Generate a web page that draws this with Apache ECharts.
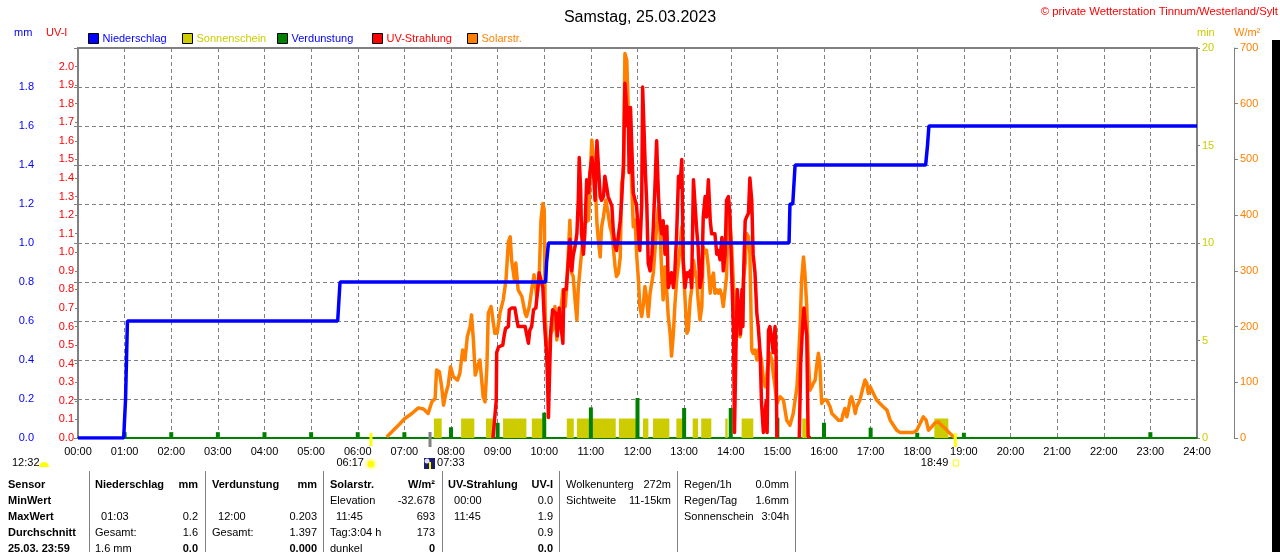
<!DOCTYPE html>
<html>
<head>
<meta charset="utf-8">
<script src="https://cdn.jsdelivr.net/npm/echarts@6/dist/echarts.min.js"></script>
<style>
html, body { margin: 0; padding: 0; background: #fff; }
#chart { width: 1280px; height: 552px; }
</style>
</head>
<body>
<div id="chart"></div>
<script>
const FONT = 'Liberation Sans';

// Niederschlag kumuliert [Stunde, mm]
const rainMm = [[0, 0], [0.98, 0], [1.02, 0.2], [1.04, 0.4], [1.06, 0.6], [5.57, 0.6], [5.62, 0.8],
  [10.03, 0.8], [10.05, 0.9], [10.09, 1.0], [15.25, 1.0], [15.27, 1.2], [15.33, 1.2], [15.38, 1.4],
  [18.18, 1.4], [18.22, 1.5], [18.25, 1.6], [24, 1.6]];

// Verdunstung je Stunde (mm)
const evapHour = [1, 2, 3, 4, 5, 6, 7, 8, 9, 10, 11, 12, 13, 14, 15, 16, 17, 18, 19, 23];
const evapMm = [0.03, 0.03, 0.03, 0.03, 0.03, 0.03, 0.03, 0.055, 0.078, 0.13, 0.157, 0.205, 0.154, 0.154,
  0.104, 0.078, 0.053, 0.027, 0.027, 0.03];

// Sonnenschein (min) Intervalle
const sunFrom = ['07:38', '08:13', '08:45', '09:07', '09:44', '10:29', '10:42', '11:36', '12:07', '12:20',
  '12:50', '13:11', '13:22', '13:53', '14:14', '15:32', '18:22'];
const sunTo = ['07:48', '08:30', '08:55', '09:37', '09:58', '10:38', '11:32', '11:58', '12:14', '12:41',
  '12:59', '13:18', '13:35', '13:56', '14:29', '15:38', '18:40'];
const sunMin = [1, 1, 1, 1, 1, 1, 1, 1, 1, 1, 1, 1, 1, 1, 1, 1, 1];

// Solarstrahlung [Stunde, W/m²]
const solarWm2 = [[6.62, 2], [6.91, 26], [7.01, 35], [7.16, 44], [7.30, 54], [7.41, 52], [7.51, 44], [7.59, 65],
  [7.66, 71], [7.69, 122], [7.75, 119], [7.80, 92], [7.84, 59], [7.89, 80], [7.94, 95], [7.99, 128], [8.05, 110],
  [8.14, 104], [8.19, 116], [8.25, 158], [8.30, 140], [8.35, 182], [8.41, 200], [8.44, 221], [8.48, 176],
  [8.52, 113], [8.57, 128], [8.62, 140], [8.69, 74], [8.73, 65], [8.77, 128], [8.80, 224], [8.86, 236],
  [8.89, 239], [8.94, 188], [8.99, 188], [9.05, 224], [9.12, 248], [9.18, 284], [9.23, 352], [9.27, 361],
  [9.30, 319], [9.36, 284], [9.39, 314], [9.44, 266], [9.52, 254], [9.59, 224], [9.62, 218], [9.68, 236],
  [9.73, 266], [9.78, 293], [9.84, 254], [9.89, 284], [9.93, 391], [9.97, 421], [10.00, 409], [10.02, 224],
  [10.05, 158], [10.09, 152], [10.14, 188], [10.18, 194], [10.23, 236], [10.27, 176], [10.30, 212],
  [10.35, 224], [10.40, 266], [10.45, 236], [10.48, 269], [10.55, 391], [10.59, 296], [10.62, 290],
  [10.66, 248], [10.70, 212], [10.73, 269], [10.80, 332], [10.87, 386], [10.95, 391], [10.98, 458],
  [11.02, 535], [11.05, 538], [11.09, 463], [11.13, 386], [11.16, 355], [11.20, 325], [11.23, 379],
  [11.27, 397], [11.32, 427], [11.37, 403], [11.41, 379], [11.45, 367], [11.48, 343], [11.52, 307],
  [11.55, 290], [11.59, 296], [11.63, 325], [11.66, 457], [11.70, 475], [11.73, 690], [11.77, 678],
  [11.80, 595], [11.84, 535], [11.88, 445], [11.91, 379], [11.95, 391], [11.98, 331], [12.02, 284],
  [12.05, 236], [12.09, 218], [12.12, 236], [12.16, 272], [12.20, 248], [12.23, 218], [12.27, 260],
  [12.34, 296], [12.38, 343], [12.41, 379], [12.45, 415], [12.48, 379], [12.52, 296], [12.55, 248],
  [12.59, 307], [12.63, 260], [12.66, 218], [12.70, 188], [12.73, 147], [12.77, 188], [12.80, 236],
  [12.84, 284], [12.90, 331], [12.95, 379], [12.99, 296], [13.06, 188], [13.09, 194], [13.13, 248],
  [13.16, 266], [13.20, 319], [13.23, 302], [13.27, 284], [13.30, 248], [13.34, 212], [13.38, 236],
  [13.41, 343], [13.45, 332], [13.48, 337], [13.52, 307], [13.56, 260], [13.59, 284], [13.63, 296],
  [13.66, 260], [13.70, 266], [13.73, 260], [13.77, 266], [13.81, 254], [13.84, 236], [13.88, 236],
  [13.91, 290], [13.95, 427], [13.98, 427], [14.02, 343], [14.06, 272], [14.09, 236], [14.13, 212],
  [14.16, 188], [14.20, 182], [14.24, 236], [14.27, 284], [14.31, 314], [14.34, 367], [14.38, 361],
  [14.41, 332], [14.45, 158], [14.48, 152], [14.52, 158], [14.56, 140], [14.59, 158], [14.63, 152],
  [14.66, 140], [14.70, 104], [14.74, 92], [14.77, 110], [14.81, 140], [14.84, 152], [14.88, 140],
  [14.91, 116], [14.95, 92], [14.99, 62], [15.02, 68], [15.06, 74], [15.13, 68], [15.20, 32], [15.27, 23],
  [15.34, 44], [15.42, 92], [15.45, 134], [15.49, 206], [15.52, 284], [15.56, 325], [15.59, 296],
  [15.63, 236], [15.66, 146], [15.70, 86], [15.74, 92], [15.77, 98], [15.81, 104], [15.84, 128],
  [15.88, 152], [15.91, 134], [15.95, 62], [15.99, 68], [16.06, 68], [16.13, 56], [16.17, 44], [16.24, 38],
  [16.31, 32], [16.38, 32], [16.41, 44], [16.45, 53], [16.49, 38], [16.52, 50], [16.56, 68], [16.59, 74],
  [16.63, 62], [16.67, 44], [16.70, 56], [16.77, 68], [16.84, 92], [16.88, 104], [16.92, 98], [16.95, 80],
  [16.99, 92], [17.02, 92], [17.06, 80], [17.13, 68], [17.20, 62], [17.27, 56], [17.35, 50], [17.42, 32],
  [17.49, 23], [17.56, 14], [17.63, 10], [17.77, 10], [17.92, 10], [17.99, 14], [18.06, 26], [18.13, 38],
  [18.19, 32], [18.24, 14], [18.31, 20], [18.38, 27], [18.45, 29], [18.52, 23], [18.60, 17], [18.67, 11],
  [18.74, 5], [18.79, 2], [18.82, 0]];

// UV-Strahlung [Stunde, UV-I]
const uvIndex = [[8.90, 0], [8.94, 0.01], [8.97, 0.20], [8.98, 0.46], [9.02, 0.49], [9.05, 0.50], [9.11, 0.50],
  [9.14, 0.55], [9.17, 0.59], [9.23, 0.60], [9.25, 0.69], [9.30, 0.70], [9.37, 0.70], [9.41, 0.64],
  [9.44, 0.60], [9.59, 0.60], [9.62, 0.59], [9.66, 0.51], [9.69, 0.58], [9.73, 0.60], [9.77, 0.69],
  [9.82, 0.70], [9.86, 0.80], [9.89, 0.89], [9.93, 0.90], [9.97, 0.81], [10.00, 0.64], [10.02, 0.56],
  [10.05, 0.46], [10.07, 0.31], [10.09, 0.11], [10.11, 0.31], [10.14, 0.58], [10.18, 0.69], [10.21, 0.70],
  [10.25, 0.67], [10.28, 0.55], [10.32, 0.70], [10.36, 0.60], [10.40, 0.51], [10.42, 0.80], [10.47, 0.80],
  [10.52, 0.96], [10.55, 1.07], [10.59, 0.90], [10.62, 0.98], [10.66, 1.03], [10.70, 1.10], [10.73, 1.28],
  [10.75, 1.51], [10.78, 1.34], [10.80, 1.10], [10.84, 0.99], [10.87, 1.10], [10.91, 1.39], [10.95, 1.32],
  [10.98, 1.43], [11.02, 1.51], [11.05, 1.46], [11.09, 1.28], [11.13, 1.60], [11.16, 1.59], [11.20, 1.30],
  [11.23, 1.28], [11.27, 1.30], [11.30, 1.41], [11.34, 1.35], [11.37, 1.30], [11.41, 1.30], [11.45, 1.25],
  [11.48, 1.12], [11.52, 1.03], [11.55, 1.01], [11.59, 1.01], [11.63, 1.17], [11.66, 1.28], [11.70, 1.48],
  [11.73, 1.91], [11.75, 1.84], [11.78, 1.68], [11.80, 1.78], [11.82, 1.43], [11.85, 1.78], [11.88, 1.55],
  [11.91, 1.32], [11.95, 1.32], [11.98, 1.25], [12.02, 1.10], [12.05, 1.01], [12.09, 1.25], [12.11, 1.89],
  [12.14, 1.90], [12.17, 1.43], [12.20, 1.25], [12.23, 0.94], [12.27, 0.90], [12.31, 0.99], [12.34, 1.14],
  [12.38, 1.39], [12.41, 1.60], [12.45, 1.30], [12.48, 1.17], [12.52, 1.10], [12.55, 1.17], [12.59, 0.99],
  [12.63, 1.14], [12.66, 0.81], [12.70, 0.81], [12.73, 0.89], [12.77, 0.81], [12.80, 0.89], [12.84, 1.10],
  [12.88, 1.41], [12.91, 1.35], [12.95, 1.50], [12.98, 0.96], [13.02, 0.81], [13.06, 0.89], [13.09, 0.87],
  [13.13, 0.90], [13.16, 0.81], [13.20, 1.39], [13.23, 1.40], [13.27, 1.12], [13.30, 1.03], [13.34, 0.81],
  [13.38, 0.87], [13.41, 1.19], [13.45, 1.30], [13.48, 1.19], [13.52, 1.39], [13.56, 1.17], [13.59, 1.10],
  [13.63, 1.09], [13.66, 1.10], [13.70, 0.99], [13.73, 1.01], [13.77, 0.96], [13.81, 1.08], [13.84, 0.90],
  [13.88, 0.99], [13.91, 1.28], [13.95, 1.30], [13.98, 1.21], [14.02, 0.90], [14.06, 0.56], [14.08, 0.03],
  [14.11, 0.46], [14.14, 0.80], [14.18, 0.80], [14.21, 0.56], [14.24, 0.80], [14.26, 0.60], [14.28, 0.92],
  [14.31, 1.17], [14.34, 1.19], [14.38, 1.21], [14.41, 1.40], [14.45, 1.28], [14.48, 0.99], [14.52, 0.89],
  [14.56, 0.67], [14.59, 0.60], [14.63, 0.46], [14.66, 0.19], [14.70, 0.03], [14.74, 0.03], [14.76, 0.20],
  [14.78, 0.03], [14.81, 0.58], [14.84, 0.60], [14.88, 0.53], [14.91, 0.46], [14.95, 0.60], [14.97, 0.49],
  [14.99, 0], [15.2, '-'], [15.47, 0], [15.50, 0.40], [15.54, 0.60], [15.57, 0.70], [15.59, 0.64],
  [15.63, 0.55], [15.66, 0.01], [15.70, 0]];

// Sonnen-/Mondzeiten unter der Zeitachse
const sunrise = '06:17';
const sunset = '18:49';
const moonEvent = '07:33';
const moonNote = '12:32';

// Tabelle unter dem Diagramm
const tableRows = ['Sensor', 'MinWert', 'MaxWert', 'Durchschnitt', '25.03. 23:59'];
const tableCols = [
  { head: ['Niederschlag', 'mm'], cells: [['', ''], ['  01:03', '0.2'], ['Gesamt:', '1.6'], ['1.6 mm', '0.0']] },
  { head: ['Verdunstung', 'mm'], cells: [['', ''], ['  12:00', '0.203'], ['Gesamt:', '1.397'], ['', '0.000']] },
  { head: ['Solarstr.', 'W/m²'], cells: [['Elevation', '-32.678'], ['  11:45', '693'], ['Tag:3:04 h', '173'], ['dunkel', '0']] },
  { head: ['UV-Strahlung', 'UV-I'], cells: [['  00:00', '0.0'], ['  11:45', '1.9'], ['', '0.9'], ['', '0.0']] }
];
const infoCols = [
  [['Wolkenunterg', '272m'], ['Sichtweite', '11-15km']],
  [['Regen/1h', '0.0mm'], ['Regen/Tag', '1.6mm'], ['Sonnenschein', '3:04h']]
];

const hourOf = s => { const p = s.split(':').map(Number); return p[0] + p[1] / 60; };
const sunData = sunFrom.map((f, i) => [hourOf(f), hourOf(sunTo[i]), sunMin[i]]);
const evapData = evapHour.map((h, i) => [h, evapMm[i]]);

const GRAY = '#808080';
const dashed = { show: true, lineStyle: { color: GRAY, type: [4, 3], width: 1 } };
const lbl = (color, extra) => Object.assign({ color, fontSize: 11, fontFamily: FONT }, extra || {});

const chart = echarts.init(document.getElementById('chart'));

const legendItem = (left, name, color) => ({
  left, top: 33, padding: 0, itemWidth: 10, itemHeight: 10, icon: 'rect', selectedMode: false,
  itemStyle: { borderColor: '#000', borderWidth: 1 },
  textStyle: { color, fontSize: 11, fontFamily: FONT, padding: [0, 0, 0, -1] },
  data: [{ name }]
});

chart.setOption({
  animation: false,
  textStyle: { fontFamily: FONT },
  title: {
    text: 'Samstag, 25.03.2023', left: 'center', top: 5,
    textStyle: { fontSize: 16, fontWeight: 'normal', color: '#000', fontFamily: FONT }
  },
  legend: [
    legendItem(88, 'Niederschlag', '#0000ff'),
    legendItem(182, 'Sonnenschein', '#cccc00'),
    legendItem(277, 'Verdunstung', '#0000ff'),
    legendItem(372, 'UV-Strahlung', '#ff0000'),
    legendItem(467, 'Solarstr.', '#ff8000')
  ],
  grid: { left: 78, right: 83, top: 48, bottom: 114, show: true, borderColor: GRAY, borderWidth: 2 },
  xAxis: {
    type: 'value', min: 0, max: 24, interval: 1,
    axisLine: { show: true, onZero: false, lineStyle: { color: '#008000', width: 2 } },
    axisTick: { show: false },
    splitLine: dashed,
    axisLabel: lbl('#000', { margin: 8, formatter: v => String(v).padStart(2, '0') + ':00' })
  },
  yAxis: [
    { type: 'value', position: 'left', offset: 37, min: 0, max: 2, interval: 0.2,
      axisLine: { show: true, lineStyle: { color: GRAY, width: 1 } },
      axisTick: { show: true, length: 4, lineStyle: { color: GRAY } },
      splitLine: dashed,
      axisLabel: lbl('#0000ff', { margin: 7, formatter: v => v > 1.95 ? '' : v.toFixed(1) }) },
    { type: 'value', position: 'left', min: 0, max: 2.1, interval: 0.1,
      axisLine: { show: true, lineStyle: { color: GRAY, width: 2 } },
      axisTick: { show: true, length: 3, lineStyle: { color: GRAY } },
      splitLine: { show: false },
      axisLabel: lbl('#ff0000', { margin: 4, formatter: v => v > 2.05 ? '' : v.toFixed(1) }) },
    { type: 'value', position: 'right', min: 0, max: 20, interval: 5,
      axisLine: { show: true, lineStyle: { color: GRAY, width: 2 } },
      axisTick: { show: true, length: 3, lineStyle: { color: GRAY } },
      splitLine: { show: false },
      axisLabel: lbl('#cccc00', { margin: 5 }) },
    { type: 'value', position: 'right', offset: 37, min: 0, max: 700, interval: 100,
      axisLine: { show: true, lineStyle: { color: GRAY, width: 1 } },
      axisTick: { show: true, length: 4, lineStyle: { color: GRAY } },
      splitLine: { show: false },
      axisLabel: lbl('#ff8000', { margin: 6 }) }
  ],
  series: [
    { name: 'Sonnenschein', type: 'custom', yAxisIndex: 2, z: 2,
      itemStyle: { color: '#cccc00' },
      encode: { x: [0, 1], y: 2 },
      data: sunData,
      renderItem: (params, api) => {
        const a = api.coord([api.value(0), api.value(2)]);
        const b = api.coord([api.value(1), 0]);
        return { type: 'rect', shape: { x: a[0], y: a[1], width: b[0] - a[0], height: b[1] - a[1] },
          style: { fill: '#cccc00' } };
      } },
    { name: 'Verdunstung', type: 'bar', yAxisIndex: 0, z: 3, barWidth: 4,
      itemStyle: { color: '#008000' }, data: evapData },
    { name: 'Solarstr.', type: 'line', yAxisIndex: 3, z: 4, symbol: 'none',
      itemStyle: { color: '#ff8000' }, lineStyle: { color: '#ff8000', width: 3.5, join: 'round' }, data: solarWm2 },
    { name: 'UV-Strahlung', type: 'line', yAxisIndex: 1, z: 5, symbol: 'none', connectNulls: false,
      itemStyle: { color: '#ff0000' }, lineStyle: { color: '#ff0000', width: 3.5, join: 'round' }, data: uvIndex },
    { name: 'Niederschlag', type: 'line', yAxisIndex: 0, z: 6, symbol: 'none',
      itemStyle: { color: '#0000ff' }, lineStyle: { color: '#0000ff', width: 3.5 }, data: rainMm }
  ]
});

// Zusatzelemente: Achsennamen, Markierungen, Tabelle
const txt = (x, y, text, color, opt) => Object.assign({
  type: 'text', x, y,
  style: Object.assign({ text, fill: color || '#000', font: '11px "' + FONT + '"', textVerticalAlign: 'middle' }, (opt && opt.style) || {})
}, opt && opt.z ? { z: opt.z } : {});

const g = [];
g.push(txt(14, 33, 'mm', '#0000ff'));
g.push(txt(46, 33, 'UV-I', '#ff0000'));
g.push(txt(1197, 33, 'min', '#cccc00'));
g.push(txt(1234, 33, 'W/m²', '#ff8000'));
g.push(txt(1278, 12, '© private Wetterstation Tinnum/Westerland/Sylt', '#ff0000', { style: { textAlign: 'right', font: '11.3px "' + FONT + '"' } }));

const baseY = chart.convertToPixel({ yAxisIndex: 0 }, 0);
const xAt = s => chart.convertToPixel({ xAxisIndex: 0 }, hourOf(s));

// Mond-Notiz links
g.push(txt(12, 463, moonNote));
g.push({ type: 'sector', shape: { cx: 44, cy: 467, r: 5, startAngle: Math.PI, endAngle: 2 * Math.PI }, style: { fill: '#ffff00' } });

// Sonnenaufgang
const xr = xAt(sunrise);
g.push({ type: 'rect', shape: { x: xr - 1.5, y: baseY - 5, width: 3, height: 13 }, style: { fill: '#ffff00' }, z: 10 });
g.push(txt(xr - 7, 463, sunrise, '#000', { style: { textAlign: 'right' } }));
g.push({ type: 'circle', shape: { cx: xr, cy: 464, r: 6 }, style: { fill: 'rgba(255,255,120,0.5)' } });
g.push({ type: 'circle', shape: { cx: xr, cy: 464, r: 3.5 }, style: { fill: '#ffff00' } });

// Mondereignis
const xm = xAt(moonEvent);
g.push({ type: 'rect', shape: { x: xm - 1.5, y: baseY - 6, width: 3, height: 15 }, style: { fill: GRAY }, z: 10 });
g.push({ type: 'rect', shape: { x: xm - 6, y: 458, width: 11, height: 11 }, style: { fill: '#1c1c6c' } });
g.push({ type: 'circle', shape: { cx: xm - 3, cy: 461, r: 2.5 }, style: { fill: '#e0e0ff' } });
g.push({ type: 'rect', shape: { x: xm - 1, y: 462, width: 2, height: 7 }, style: { fill: '#ffff00' } });
g.push(txt(xm + 7, 463, moonEvent));

// Sonnenuntergang
const xs = xAt(sunset);
g.push({ type: 'rect', shape: { x: xs - 1.5, y: baseY - 5, width: 3, height: 14 }, style: { fill: '#ffff00' }, z: 10 });
g.push(txt(xs - 7, 463, sunset, '#000', { style: { textAlign: 'right' } }));
g.push({ type: 'rect', shape: { x: xs - 2, y: 460, width: 5, height: 6 }, style: { fill: 'none', stroke: '#ffff00', lineWidth: 1 } });

// Tabelle
const rowY = i => 485 + i * 16;
const normF = '11px "' + FONT + '"';
const boldF = 'bold 11px "' + FONT + '"';
tableRows.forEach((r, i) => g.push(txt(8, rowY(i), r, '#000', { style: { font: boldF } })));
const colLeft = [95, 212, 330, 448];
const colRight = [198, 317, 435, 553];
tableCols.forEach((c, ci) => {
  g.push(txt(colLeft[ci], rowY(0), c.head[0], '#000', { style: { font: boldF } }));
  g.push(txt(colRight[ci], rowY(0), c.head[1], '#000', { style: { font: boldF, textAlign: 'right' } }));
  c.cells.forEach((cell, ri) => {
    const last = ri === c.cells.length - 1;
    g.push(txt(colLeft[ci], rowY(ri + 1), cell[0], '#000', { style: { font: normF } }));
    g.push(txt(colRight[ci], rowY(ri + 1), cell[1], '#000', { style: { font: last ? boldF : normF, textAlign: 'right' } }));
  });
});
const infoLeft = [566, 684];
const infoRight = [671, 789];
infoCols.forEach((c, ci) => c.forEach((cell, ri) => {
  g.push(txt(infoLeft[ci], rowY(ri), cell[0]));
  g.push(txt(infoRight[ci], rowY(ri), cell[1], '#000', { style: { textAlign: 'right' } }));
}));
[89, 205, 323, 442, 559, 677, 795].forEach(x => g.push({
  type: 'line', shape: { x1: x + 0.5, y1: 471, x2: x + 0.5, y2: 552 }, style: { stroke: GRAY, lineWidth: 1 }
}));

// schwarzer Rand rechts
g.push({ type: 'rect', shape: { x: 1272, y: 40, width: 8, height: 512 }, style: { fill: '#000' }, z: 20 });

chart.setOption({ graphic: g });
</script>
</body>
</html>
